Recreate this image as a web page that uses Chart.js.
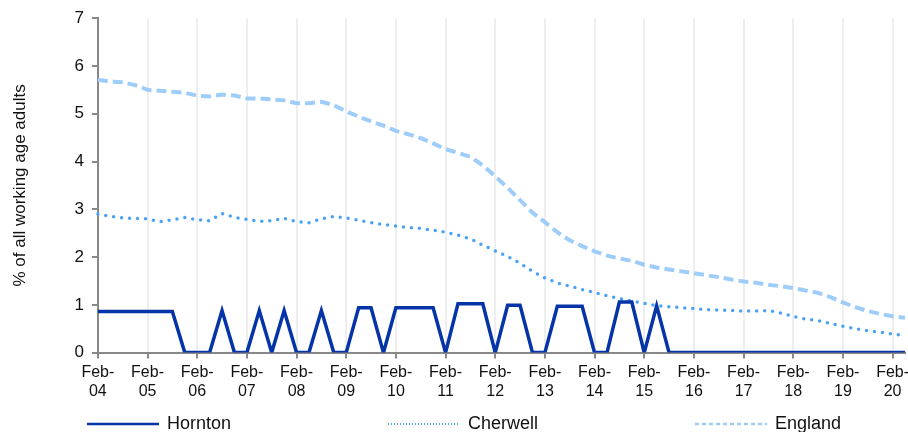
<!DOCTYPE html>
<html>
<head>
<meta charset="utf-8">
<script src="https://cdn.jsdelivr.net/npm/chart.js@4.4.0/dist/chart.umd.min.js"></script>
<style>
  html, body { margin: 0; padding: 0; background: #fff; }
  #wrap { width: 908px; height: 432px; position: relative; }
</style>
</head>
<body>
<div id="wrap"><canvas id="chart" width="908" height="432"></canvas></div>
<script>
// quarterly points, Feb-04 .. May-20
const months = ['Feb', 'May', 'Aug', 'Nov'];
const years = ['04','05','06','07','08','09','10','11','12','13','14','15','16','17','18','19','20'];

const hornton = [
  0.86, 0.86, 0.86, 0.86, 0.86, 0.86, 0.86, 0, 0, 0,
  0.88, 0, 0, 0.88, 0, 0.88, 0, 0, 0.88, 0,
  0, 0.94, 0.94, 0, 0.94, 0.94, 0.94, 0.94, 0, 1.02,
  1.02, 1.02, 0, 0.99, 0.99, 0, 0, 0.97, 0.97, 0.97,
  0, 0, 1.06, 1.06, 0, 0.98, 0, 0, 0, 0,
  0, 0, 0, 0, 0, 0, 0, 0, 0, 0,
  0, 0, 0, 0, 0, 0
];

const cherwell = [
  2.90, 2.85, 2.82, 2.81, 2.80, 2.74, 2.78, 2.83, 2.78, 2.76,
  2.91, 2.83, 2.79, 2.75, 2.76, 2.81, 2.74, 2.72, 2.80, 2.85,
  2.82, 2.77, 2.72, 2.68, 2.65, 2.62, 2.60, 2.56, 2.52, 2.46,
  2.38, 2.25, 2.13, 2.01, 1.87, 1.70, 1.56, 1.46, 1.39, 1.32,
  1.26, 1.19, 1.13, 1.08, 1.03, 0.98, 0.96, 0.94, 0.92, 0.90,
  0.89, 0.88, 0.87, 0.87, 0.88, 0.83, 0.76, 0.70, 0.67, 0.61,
  0.55, 0.50, 0.46, 0.43, 0.39, 0.36
];

const england = [
  5.71, 5.67, 5.66, 5.60, 5.50, 5.48, 5.46, 5.44, 5.38, 5.36,
  5.40, 5.38, 5.32, 5.32, 5.30, 5.28, 5.22, 5.22, 5.25, 5.18,
  5.05, 4.94, 4.84, 4.75, 4.64, 4.57, 4.49, 4.38, 4.26, 4.18,
  4.10, 3.92, 3.69, 3.45, 3.19, 2.93, 2.73, 2.52, 2.35, 2.23,
  2.12, 2.03, 1.97, 1.92, 1.84, 1.78, 1.74, 1.70, 1.66, 1.62,
  1.58, 1.53, 1.49, 1.46, 1.42, 1.39, 1.35, 1.30, 1.25, 1.16,
  1.05, 0.95, 0.87, 0.81, 0.76, 0.73
];

const labels = [];
for (let i = 0; i < hornton.length; i++) {
  labels.push(months[i % 4] + '-' + years[Math.floor(i / 4)]);
}

const font = 'Liberation Sans, Arial, sans-serif';

// legend along the bottom, drawn by hand so the spacing matches
const legendSpots = [87, 388, 695];
const legendPlugin = {
  id: 'bottomLegend',
  afterDraw(chart) {
    const ctx = chart.ctx;
    const y = 424;
    ctx.save();
    chart.data.datasets.forEach((ds, i) => {
      const x = legendSpots[i];
      ctx.beginPath();
      ctx.strokeStyle = ds.borderColor;
      if (i === 0) { ctx.lineWidth = 2.5; ctx.setLineDash([]); }
      if (i === 1) { ctx.lineWidth = 2; ctx.setLineDash([1, 2]); }
      if (i === 2) { ctx.lineWidth = 2.5; ctx.setLineDash([4, 3]); }
      ctx.moveTo(x, y);
      ctx.lineTo(x + 72, y);
      ctx.stroke();
      ctx.setLineDash([]);
      ctx.fillStyle = '#111';
      ctx.font = '18px ' + font;
      ctx.textBaseline = 'middle';
      ctx.fillText(ds.label, x + 80, y);
    });
    ctx.restore();
  }
};

new Chart(document.getElementById('chart').getContext('2d'), {
  type: 'line',
  data: {
    labels: labels,
    datasets: [
      {
        label: 'Hornton',
        data: hornton,
        borderColor: '#0533a8',
        backgroundColor: '#0533a8',
        borderWidth: 3.5,
        pointRadius: 0,
        tension: 0
      },
      {
        label: 'Cherwell',
        data: cherwell,
        borderColor: '#4aa2f6',
        backgroundColor: '#4aa2f6',
        borderWidth: 3.5,
        borderDash: [0, 8],
        borderCapStyle: 'round',
        pointRadius: 0,
        tension: 0
      },
      {
        label: 'England',
        data: england,
        borderColor: '#9ecdfa',
        backgroundColor: '#9ecdfa',
        borderWidth: 4,
        borderDash: [10, 5],
        pointRadius: 0,
        tension: 0
      }
    ]
  },
  options: {
    responsive: false,
    animation: false,
    layout: { padding: { top: 16, right: 3, left: 10, bottom: 27 } },
    plugins: {
      tooltip: { enabled: false },
      legend: { display: false }
    },
    scales: {
      x: {
        offset: false,
        afterFit: (scale) => { scale.paddingRight = 0; },
        border: { color: '#888', width: 2 },
        grid: {
          color: '#eeeeee',
          tickColor: '#888',
          tickLength: 6,
          lineWidth: 2
        },
        ticks: {
          autoSkip: false,
          maxRotation: 0,
          color: '#111',
          font: { family: font, size: 16 },
          padding: 4,
          callback: function (v, i) {
            const l = labels[i];
            if (l.indexOf('Feb') !== 0) return null;
            return ['Feb-', l.slice(4)];
          }
        }
      },
      y: {
        min: 0,
        max: 7,
        border: { color: '#888', width: 2 },
        grid: { drawOnChartArea: false, color: '#888', tickLength: 6, lineWidth: 2 },
        ticks: {
          stepSize: 1,
          autoSkip: false,
          color: '#111',
          font: { family: font, size: 17 },
          padding: 8
        },
        title: {
          display: true,
          text: '% of all working age adults',
          color: '#111',
          font: { family: font, size: 17 },
          padding: { top: 0, bottom: 36 }
        }
      }
    }
  },
  plugins: [legendPlugin]
});
</script>
</body>
</html>
